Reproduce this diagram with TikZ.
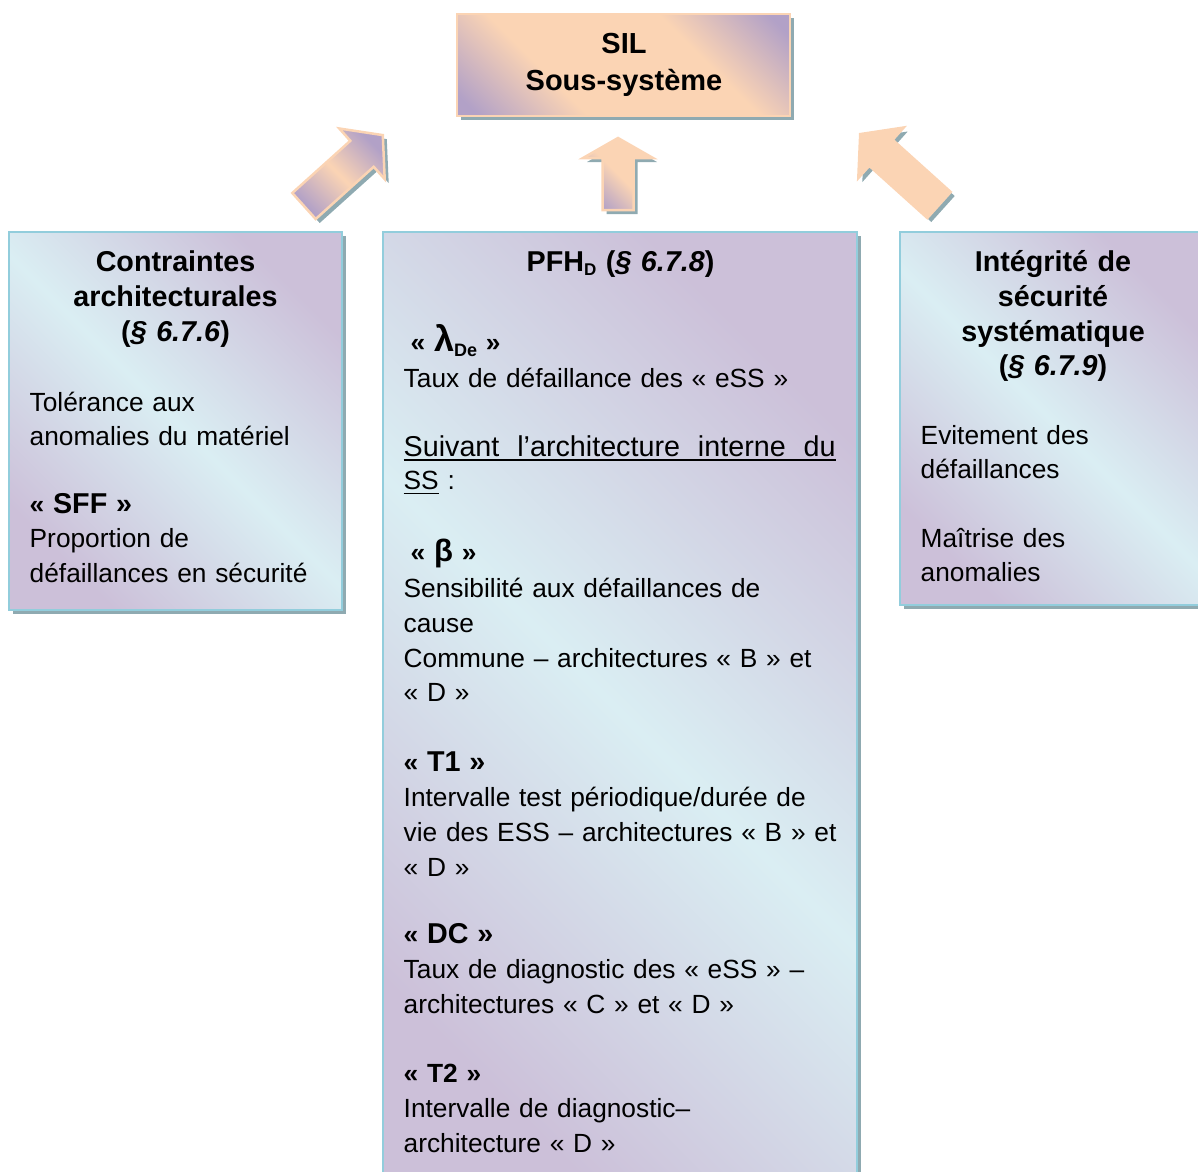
\documentclass[tikz,border=0pt]{standalone}
\usepackage{fontspec}
\setmainfont{Liberation Sans}
\usetikzlibrary{shadows}
\definecolor{peach}{HTML}{FBD4B4}
\definecolor{lav}{HTML}{B2A1C7}
\definecolor{lavlt}{HTML}{CCC0D9}
\definecolor{aqua}{HTML}{DAEEF3}
\definecolor{aquaedge}{HTML}{92CDDC}
\definecolor{shadowc}{HTML}{8FAAB1}
\pgfdeclareverticalshading{peachshade}{100bp}{color(0bp)=(lav); color(18bp)=(lav); color(36bp)=(peach); color(64bp)=(peach); color(82bp)=(lav); color(100bp)=(lav)}
\newcommand{\fbody}{\fontsize{26.3}{34.7}\selectfont}
\newcommand{\fhead}{\fontsize{28.7}{34.8}\selectfont\bfseries}
\newcommand{\fbig}{\fontsize{28.7}{34.7}\selectfont}
\newcommand{\myul}[1]{\leavevmode\setbox0\hbox{#1}\rlap{\rule[-4.5pt]{\wd0}{1.6pt}}\box0\relax}
\newcommand{\gq}[1]{\textbf{«~#1~»}}
\tikzset{
  shad/.style={drop shadow={shadow xshift=4pt, shadow yshift=-4pt, fill=shadowc, opacity=1}},
  bluebox/.style={shad, draw=aquaedge, line width=2pt, top color=lavlt, bottom color=lavlt, middle color=aqua, shading angle=-45, inner sep=0, outer sep=0, anchor=north west},
  peachbox/.style={shad, draw=peach, line width=2.5pt, shading=peachshade, shading angle=-45, inner sep=0, outer sep=0, anchor=north west},
  arrowshape/.style={shad, draw=peach, line width=2.5pt, line join=miter},
  body/.style={font=\fbody, text width=440pt, align=left, inner sep=0, anchor=base west},
  headtxt/.style={font=\fhead, text width=330pt, align=center, inner sep=0, anchor=base},
}
\begin{document}
\begin{tikzpicture}[x=1pt,y=-1pt]
\useasboundingbox (0,0) rectangle (1198,1171);
\clip (0,0) rectangle (1198,1171);

% boxes
\node[peachbox, minimum width=333pt, minimum height=102pt] (topbox) at (457,14) {};
\node[bluebox, minimum width=333pt, minimum height=378pt] (lbox) at (9,232) {};
\node[bluebox, minimum width=474pt, minimum height=960pt] (mbox) at (383,232) {};
\node[bluebox, minimum width=300pt, minimum height=373pt] (rbox) at (900,232) {};

% block arrows
\path[arrowshape, top color=lav, bottom color=lav, middle color=peach, shading angle=-45]
  (292.3,193.0) -- (350.3,140.8) -- (339.3,128.5) -- (382.8,135.1) -- (384.7,179.1) -- (373.7,166.8) -- (315.7,219.0) -- cycle;
\path[arrowshape, top color=peach, bottom color=lav, middle color=peach, shading angle=-45]
  (602.5,210) -- (602.5,158) -- (583,158) -- (618,138) -- (653,158) -- (633.5,158) -- (633.5,210) -- cycle;
\path[arrowshape, fill=peach]
  (950.7,192) -- (892.7,139.8) -- (903.7,127.5) -- (860.2,134.1) -- (858.3,178.1) -- (869.3,165.8) -- (927.3,218) -- cycle;

% top box text
\node[font=\fontsize{29}{36.5}\selectfont\bfseries, text width=300pt, align=center, inner sep=0, anchor=base] (toptxt) at (624,53.5) {SIL\\Sous-système};

% left box
\node[headtxt] (lhead) at (175.5,271.5) {Contraintes\\architecturales\\(\textit{§ 6.7.6})};
\node[body] (lb1) at (29.5,411) {Tolérance aux\\anomalies du matériel};
\node[body] (lb2) at (29.5,513) {\gq{\fbig SFF}\\Proportion de\\défaillances en sécurité};

% middle box
\node[headtxt] (mhead) at (620.5,271.5) {PFH\raisebox{-4pt}{\fontsize{17}{17}\selectfont D} (\textit{§ 6.7.8})};
\node[body] (mb1) at (403.5,351) {\hspace*{7pt}\textbf{«~{\fontsize{36}{36}\selectfont λ}\raisebox{-5pt}{\fontsize{18}{18}\selectfont De}~»}\\[2pt]Taux de défaillance des «~eSS~»};
\node[body] (mb2) at (403.5,456) {{\fbig\myul{\makebox[432pt][s]{Suivant\hfill l’architecture\hfill interne\hfill du}}}\\[-1pt]\myul{SS} :};
\node[body] (mb3) at (403.5,561) {\hspace*{7pt}\textbf{«~{\fontsize{31}{31}\selectfont β}~»}\\[2pt]Sensibilité aux défaillances de\\cause\\Commune – architectures «~B~» et\\«~D~»};
\node[body] (mb4) at (403.5,771) {\gq{\fbig T1}\\[1pt]Intervalle test périodique/durée de\\vie des ESS – architectures «~B~» et\\«~D~»};
\node[body] (mb5) at (403.5,943) {\gq{\fbig DC}\\[1pt]Taux de diagnostic des «~eSS~» –\\architectures «~C~» et «~D~»};
\node[body] (mb6) at (403.5,1082) {\gq{T2}\\[1pt]Intervalle de diagnostic–\\architecture «~D~»};

% right box
\node[headtxt] (rhead) at (1053,271.5) {Intégrité de\\sécurité\\systématique\\(\textit{§ 6.7.9})};
\node[body] (rb1) at (920.5,444) {Evitement des\\défaillances};
\node[body] (rb2) at (920.5,547) {Maîtrise des\\anomalies};
\end{tikzpicture}
\end{document}
